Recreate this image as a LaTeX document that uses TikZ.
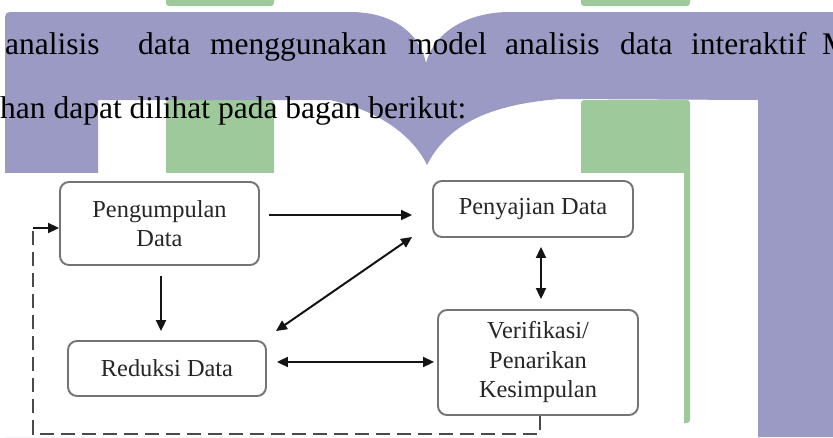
\documentclass[tikz,border=0pt]{standalone}
\usepackage{fontspec}
\setmainfont{Liberation Serif}
\usetikzlibrary{arrows.meta,calc}
\definecolor{wmpurple}{HTML}{9A9AC4}
\definecolor{wmgreen}{HTML}{9EC99B}
\definecolor{boxgray}{HTML}{747474}
\definecolor{inkdark}{HTML}{141414}
\definecolor{dashgray}{HTML}{4A4A4A}
\definecolor{txtgray}{HTML}{262626}
\tikzset{
  para/.style={inner sep=0pt, anchor=base west, font=\fontsize{31.5}{38}\selectfont},
  stagebox/.style={draw=boxgray, line width=1.9pt, rounded corners=9pt, fill=white,
    inner sep=0pt, align=center, text=txtgray,
    font=\fontsize{24.4}{29.5}\selectfont},
  arr/.style={draw=inkdark, line width=2pt, -{Triangle[length=11pt,width=10pt]}},
  darr/.style={draw=inkdark, line width=2pt, {Triangle[length=11pt,width=10pt]}-{Triangle[length=11pt,width=10pt]}},
  loopline/.style={draw=dashgray, line width=2.2pt, dash pattern=on 14pt off 7pt}
}
\begin{document}
\begin{tikzpicture}[x=1pt,y=-1pt]
\useasboundingbox (0,0) rectangle (833,437);
% watermark
\fill[wmgreen, rounded corners=3pt] (166,-6) rectangle (274,6);
\fill[wmgreen, rounded corners=3pt] (581,-6) rectangle (690,6);
\fill[wmgreen, rounded corners=3pt] (166,100) rectangle (274,437);
\fill[wmgreen, rounded corners=3pt] (581,100) rectangle (690,423);
\fill[wmpurple] (5,437) -- (5,17) .. controls (5,14) and (7,12) .. (10,12) -- (350,12)
  .. controls (395,12) and (420,35) .. (426,63)
  .. controls (435,30) and (470,12) .. (510,12) -- (833,12) -- (833,437) -- (758,437)
  -- (758,100) -- (560,99)
  .. controls (480,105) and (445,130) .. (427,165)
  .. controls (415,140) and (385,112) .. (330,100)
  -- (98,100) -- (98,437) -- cycle;
% paragraph text
\node[para] (w1) at (5,54) {analisis};
\node[para] (w2) at (138,54) {data};
\node[para] (w3) at (210,54) {menggunakan};
\node[para] (w4) at (408,54) {model};
\node[para] (w5) at (505,54) {analisis};
\node[para] (w6) at (620,54) {data};
\node[para] (w7) at (691,54) {interaktif};
\node[para] (w8) at (822,54) {M};
\node[para] (l2) at (0,118) {han dapat dilihat pada bagan berikut:};
% diagram background
\fill[white] (0,173) rectangle (684,437);
% boxes
\node[stagebox, minimum width=199pt, minimum height=83pt] (P) at (159.5,223.5) {Pengumpulan\\Data};
\node[stagebox, minimum width=198pt, minimum height=55pt] (R) at (167,368.5) {Reduksi Data};
\node[stagebox, minimum width=200pt, minimum height=56pt] (S) at (533,209) {Penyajian Data};
\node[stagebox, minimum width=200pt, minimum height=105pt] (V) at (538,362.5) {Verifikasi/\\Penarikan\\Kesimpulan};
% connectors
\draw[arr] ($(P.south)+(1.5,10)$) -- ($(R.north)+(-6,-9)$);
\draw[arr] ($(P.east)+(9,-8.5)$) -- ($(S.west)+(-20,6)$);
\draw[darr] ($(S.west)+(-20,28)$) -- ($(R.north east)+(9,-9)$);
\draw[darr] ($(R.east)+(10,-6.5)$) -- ($(V.west)+(-3,-0.5)$);
\draw[darr] ($(S.south)+(8,9)$) -- ($(V.north)+(3,-10)$);
\coordinate (dl) at (33,434);
\coordinate (du) at (33,228);
\draw[loopline] ($(V.south)+(2,0)$) |- (dl) -- (du);
\draw[arr] (du) -- ($(P.west)+(0,4.5)$);
\end{tikzpicture}
\end{document}
